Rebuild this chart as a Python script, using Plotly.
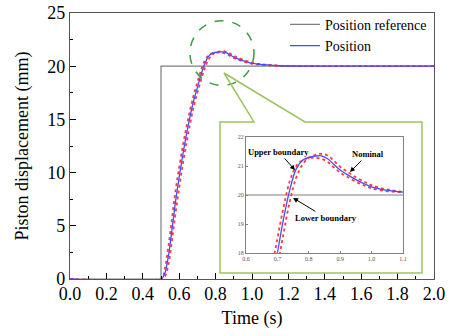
import plotly.graph_objects as go

# ---------------- data ----------------
ref_t = [0.0, 0.5, 0.5, 2.0]
ref_y = [0.0, 0.0, 20.0, 20.0]

t = [0.0, 0.50, 0.52, 0.54, 0.56, 0.58, 0.60, 0.62, 0.64, 0.66, 0.68, 0.70, 0.72,
     0.74, 0.76, 0.78, 0.80, 0.82, 0.84, 0.86, 0.88, 0.90, 0.92, 0.95, 0.98,
     1.00, 1.05, 1.10, 1.15, 1.20, 1.40, 2.00]
nominal = [0.0, 0.0, 0.5, 2.1, 4.6, 7.3, 9.6, 11.7, 13.6, 15.3, 16.8, 18.0, 19.2,
           20.2, 20.9, 21.2, 21.3, 21.34, 21.35, 21.25, 21.05, 20.86, 20.72, 20.53, 20.37,
           20.28, 20.16, 20.10, 20.04, 20.02, 20.01, 20.0]
upper = [0.0, 0.0, 0.9, 3.0, 5.6, 8.3, 10.5, 12.5, 14.3, 15.9, 17.3, 18.5, 19.6,
         20.5, 21.0, 21.2, 21.27, 21.28, 21.25, 21.14, 20.95, 20.77, 20.64, 20.46, 20.31,
         20.23, 20.13, 20.09, 20.04, 20.02, 20.01, 20.0]
lower = [0.0, 0.0, 0.2, 1.3, 3.6, 6.2, 8.6, 10.8, 12.8, 14.6, 16.2, 17.5, 18.7,
         19.8, 20.6, 21.05, 21.28, 21.38, 21.42, 21.36, 21.18, 20.97, 20.82, 20.61, 20.44,
         20.34, 20.19, 20.11, 20.05, 20.02, 20.01, 20.0]

x_ticks = [0.0, 0.2, 0.4, 0.6, 0.8, 1.0, 1.2, 1.4, 1.6, 1.8, 2.0]
y_ticks = [0, 5, 10, 15, 20, 25]
inset_x_ticks = [0.6, 0.7, 0.8, 0.9, 1.0, 1.1]
inset_y_ticks = [18, 19, 20, 21, 22]

FONT = "Liberation Serif"
GRAY = "#7f7f7f"
BLUE = "#4a4aff"
RED = "#ff3b3b"

fig = go.Figure()

for xa, ya, show in [("x", "y", True), ("x2", "y2", False)]:
    fig.add_trace(go.Scatter(x=ref_t, y=ref_y, mode="lines", name="Position reference",
                             line=dict(color=GRAY, width=1.2), xaxis=xa, yaxis=ya,
                             showlegend=show))
    fig.add_trace(go.Scatter(x=t, y=upper, mode="lines", name="Upper boundary",
                             line=dict(color=RED, width=1.8, dash="dot"), xaxis=xa, yaxis=ya,
                             showlegend=False, line_shape="spline"))
    fig.add_trace(go.Scatter(x=t, y=lower, mode="lines", name="Lower boundary",
                             line=dict(color=RED, width=1.8, dash="dot"), xaxis=xa, yaxis=ya,
                             showlegend=False, line_shape="spline"))
    fig.add_trace(go.Scatter(x=t, y=nominal, mode="lines", name="Position",
                             line=dict(color=BLUE, width=1.3), xaxis=xa, yaxis=ya,
                             showlegend=show, line_shape="spline"))

W, H = 451, 336
L, R, T, B = 70, 17, 13, 57

fig.update_layout(
    width=W, height=H,
    margin=dict(l=L, r=R, t=T, b=B, autoexpand=False),
    paper_bgcolor="white", plot_bgcolor="white",
    font=dict(family=FONT, color="black"),
    showlegend=True,
    legend=dict(x=0.5907, y=1.016, xanchor="left", yanchor="top",
                bgcolor="rgba(0,0,0,0)", font=dict(size=14, family=FONT),
                tracegroupgap=0, itemwidth=30),
    xaxis=dict(range=[0, 2], tickvals=x_ticks, ticktext=[f"{v:.1f}" for v in x_ticks],
               ticks="inside", ticklen=6, tickcolor="black", automargin=False,
               ticklabelstandoff=-2,
               minor=dict(dtick=0.1, ticks="inside", ticklen=3, tickcolor="black"),
               showline=True, linecolor="#555", mirror=True, linewidth=1.2,
               showgrid=False, zeroline=False,
               tickfont=dict(size=18), title=dict(text="Time (s)", font=dict(size=18), standoff=8)),
    yaxis=dict(range=[0, 25], tickvals=y_ticks, ticks="inside", ticklen=6, tickcolor="black",
               minor=dict(dtick=2.5, ticks="inside", ticklen=3, tickcolor="black"),
               showline=True, linecolor="#555", mirror=True, linewidth=1.2,
               showgrid=False, zeroline=False, automargin=False,
               tickfont=dict(size=18),
               title=dict(text="Piston displacement (mm)", font=dict(size=18), standoff=13)),
    xaxis2=dict(domain=[0.4835, 0.9148], anchor="y2", range=[0.6, 1.1],
                tickvals=inset_x_ticks, ticktext=[f"{v:.1f}" for v in inset_x_ticks],
                ticks="inside", ticklen=2, tickcolor=GRAY, automargin=False,
                showline=True, linecolor=GRAY, mirror=True, showgrid=False, zeroline=False,
                tickfont=dict(size=6, color="#555")),
    yaxis2=dict(domain=[0.0977, 0.5338], anchor="x2", range=[18, 22],
                tickvals=inset_y_ticks, ticks="inside", ticklen=2, tickcolor=GRAY,
                automargin=False,
                showline=True, linecolor=GRAY, mirror=True, showgrid=False, zeroline=False,
                tickfont=dict(size=6, color="#555")),
)

# callout: dashed circle around the peak and box with pointer around the inset
fig.add_shape(type="circle", xref="x", yref="y", x0=0.659, x1=1.011, y0=18.2, y1=24.28,
              line=dict(color="#3a9e3a", width=1.5, dash="dash"))
fig.add_shape(type="path", xref="x", yref="y",
              path="M 0.824 14.76 L 1.011 14.76 L 0.846 19.36 L 1.291 14.76 L 1.934 14.76 "
                   "L 1.934 0.564 L 0.824 0.564 Z",
              line=dict(color="#9dc35e", width=1.5))

ann_font = dict(family=FONT, size=8.5, color="black")
for txt, ax_, ay_, xx, yy in [("<b>Upper boundary</b>", -16, -18, 0.756, 20.86),
                              ("<b>Nominal</b>", 18, -18, 0.931, 20.79),
                              ("<b>Lower boundary</b>", 33, 20, 0.750, 19.9)]:
    fig.add_annotation(x=xx, y=yy, xref="x2", yref="y2", text=txt, showarrow=True,
                       ax=ax_, ay=ay_, arrowhead=2, arrowsize=1, arrowwidth=1,
                       arrowcolor="black", font=ann_font)

fig.write_html("out.html", config={"displayModeBar": False},
               post_script="document.body.style.margin='0px';")
